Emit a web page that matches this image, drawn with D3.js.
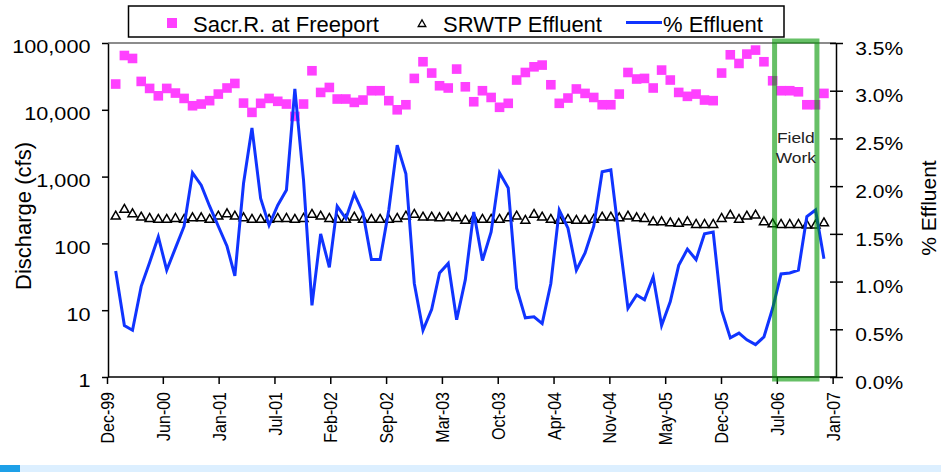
<!DOCTYPE html>
<html>
<head>
<meta charset="utf-8">
<script src="https://cdn.jsdelivr.net/npm/d3@7"></script>
<style>
  body { margin: 0; background: #fff; }
  svg { display: block; font-family: "Liberation Sans", Arial, sans-serif; }
  .axis path, .axis line { stroke: #000; stroke-width: 1.5px; }
  .axis text { fill: #000; }
</style>
</head>
<body>
<svg width="941" height="472"></svg>
<script>
// monthly values, Jan 2000 .. Dec 2006
const freeport = [24300, 65000, 58700, 26600, 20900, 16200, 20900, 17800, 14800, 11500, 12200, 13700,
  17200, 21200, 24800, 12600, 9150, 12500, 14800, 13400, 12200, 7960, 12200, 38400,
  18200, 21600, 14500, 14500, 12900, 14000, 19300, 19300, 13700, 10000, 11900, 29500,
  52400, 35500, 22900, 21200, 40700, 22100, 13200, 19300, 15300, 10900, 12500, 27900,
  36200, 44000, 46700, 23700, 12500, 15000, 20500, 17600, 15300, 11900, 11900, 17200,
  36200, 28900, 29500, 21200, 39300, 27900, 18200, 15900, 17200, 14000, 13700, 35500,
  66600, 49400, 68200, 78300, 52400, 27200, 19300, 19300, 18600, 11900, 11900, 17600];

const srwtp = [261, 329, 283, 252, 241, 233, 233, 241, 233, 246, 246, 233,
  261, 283, 261, 246, 233, 233, 233, 241, 241, 233, 241, 277,
  261, 241, 233, 233, 252, 233, 233, 233, 233, 241, 261, 277,
  252, 252, 246, 252, 246, 225, 241, 233, 233, 233, 246, 261,
  225, 277, 252, 233, 225, 233, 225, 225, 233, 252, 252, 246,
  261, 246, 241, 215, 215, 207, 203, 215, 196, 196, 196, 241,
  270, 233, 261, 270, 215, 200, 196, 196, 196, 192, 192, 207];

const pctEffluent = [1.11, 0.54, 0.49, 0.95, 1.20, 1.47, 1.12, 1.35, 1.58, 2.14, 2.01, 1.79,
  1.58, 1.37, 1.06, 2.03, 2.61, 1.87, 1.59, 1.80, 1.96, 3.02, 2.06, 0.75,
  1.50, 1.15, 1.79, 1.66, 1.92, 1.72, 1.23, 1.23, 1.75, 2.43, 2.13, 0.98,
  0.49, 0.71, 1.09, 1.19, 0.60, 1.02, 1.73, 1.22, 1.52, 2.14, 1.98, 0.93,
  0.62, 0.63, 0.56, 0.98, 1.75, 1.56, 1.12, 1.30, 1.58, 2.15, 2.17, 1.45,
  0.72, 0.86, 0.81, 1.05, 0.54, 0.79, 1.17, 1.34, 1.23, 1.50, 1.52, 0.70,
  0.41, 0.46, 0.39, 0.34, 0.42, 0.72, 1.08, 1.09, 1.12, 1.68, 1.75, 1.24];

const months = d3.timeMonth.range(new Date(2000, 0, 1), new Date(2007, 0, 1));

const xTickLabels = ["Dec-99", "Jun-00", "Jan-01", "Jul-01", "Feb-02", "Sep-02", "Mar-03",
  "Oct-03", "Apr-04", "Nov-04", "May-05", "Dec-05", "Jul-06", "Jan-07"];
const leftTicks = [1, 10, 100, 1000, 10000, 100000];
const rightTicks = [0, 0.5, 1.0, 1.5, 2.0, 2.5, 3.0, 3.5];
const fieldWork = [new Date(2006, 5, 8), new Date(2006, 10, 6)];

const svg = d3.select("svg");
const plotLeft = 108, plotRight = 836, plotTop = 43, plotBottom = 377;

const x = d3.scaleTime()
  .domain([new Date(1999, 11, 1), new Date(2007, 0, 13)])
  .range([107, plotRight]);
const yL = d3.scaleLog().domain([1, 100000]).range([plotBottom, plotTop]);
const yR = d3.scaleLinear().domain([0, 3.5]).range([plotBottom, plotTop]);

const t0 = +new Date(1999, 11, 1), t1 = +new Date(2007, 0, 1);
const tickDates = xTickLabels.map((d, i) => new Date(t0 + (t1 - t0) * i / (xTickLabels.length - 1)));

// screenshot strip at the bottom
svg.append("rect").attr("x", 0).attr("y", 465).attr("width", 941).attr("height", 7).attr("fill", "#dcefff");
svg.append("rect").attr("x", 0).attr("y", 465).attr("width", 20).attr("height", 7).attr("fill", "#1ea0e8");

// plot top border
svg.append("line")
  .attr("x1", plotLeft).attr("x2", plotRight).attr("y1", plotTop).attr("y2", plotTop)
  .attr("stroke", "#8c8c8c").attr("stroke-width", 2);

// axes
const gLeft = svg.append("g").attr("class", "axis")
  .attr("transform", `translate(${plotLeft},0)`)
  .call(d3.axisLeft(yL).tickValues(leftTicks).tickFormat(d3.format(",")).tickSize(6).tickSizeOuter(0));
gLeft.selectAll("text")
  .attr("x", -15).attr("dy", "0.53em")
  .attr("transform", "scale(1.17,1)")
  .style("font-size", "18.5px");

const gRight = svg.append("g").attr("class", "axis")
  .attr("transform", `translate(${plotRight},0)`)
  .call(d3.axisRight(yR).tickValues(rightTicks).tickFormat((d) => d.toFixed(1) + "%").tickSize(7).tickSizeOuter(0));
gRight.selectAll(".tick line").attr("x1", -6);
gRight.selectAll("text")
  .attr("x", 16.5).attr("dy", "0.62em")
  .attr("transform", "scale(1.17,1)")
  .style("font-size", "18px");

const gBottom = svg.append("g").attr("class", "axis")
  .attr("transform", `translate(0,${plotBottom})`)
  .call(d3.axisBottom(x).tickValues(tickDates).tickFormat((d, i) => xTickLabels[i]).tickSize(7).tickSizeOuter(0));
gBottom.select(".domain").attr("d", `M${plotLeft},0H${plotRight}`);
gBottom.selectAll("text")
  .attr("x", -15).attr("y", 0).attr("dy", "0.36em")
  .attr("transform", "scale(1.15,1) rotate(-90)")
  .style("text-anchor", "end")
  .style("font-size", "16px");

// axis titles
svg.append("text")
  .attr("transform", "translate(31,216) rotate(-90)")
  .attr("text-anchor", "middle")
  .style("font-size", "22px")
  .text("Discharge (cfs)");

svg.append("text")
  .attr("transform", "translate(936,208) rotate(-90)")
  .attr("text-anchor", "middle")
  .style("font-size", "21px")
  .text("% Effluent");

// SRWTP effluent triangles
const tri = "M0,-4.4L4.5,3.5L-4.5,3.5Z";
svg.append("g")
  .selectAll("path")
  .data(srwtp)
  .enter()
  .append("path")
  .attr("d", tri)
  .attr("transform", (d, i) => `translate(${x(months[i])},${yL(d)})`)
  .attr("fill", "none")
  .attr("stroke", "#000")
  .attr("stroke-width", 1.5);

// Freeport squares
svg.append("g")
  .selectAll("rect")
  .data(freeport)
  .enter()
  .append("rect")
  .attr("x", (d, i) => x(months[i]) - 4.8)
  .attr("y", (d) => yL(d) - 4.8)
  .attr("width", 9.6)
  .attr("height", 9.6)
  .attr("fill", "#ff40ff");

// % effluent line
const line = d3.line()
  .x((d, i) => x(months[i]))
  .y((d) => yR(d));

svg.append("path")
  .datum(pctEffluent)
  .attr("d", line)
  .attr("fill", "none")
  .attr("stroke", "#1034ff")
  .attr("stroke-width", 3)
  .attr("stroke-linejoin", "miter");

// field work box
svg.append("rect")
  .attr("x", x(fieldWork[0]))
  .attr("y", 41)
  .attr("width", x(fieldWork[1]) - x(fieldWork[0]))
  .attr("height", 338)
  .attr("fill", "none")
  .attr("stroke", "rgba(0,150,0,0.6)")
  .attr("stroke-width", 5);

const fwx = (x(fieldWork[0]) + x(fieldWork[1])) / 2;
[["Field", 143], ["Work", 163]].forEach(([t, yy]) => {
  svg.append("text")
    .attr("transform", `translate(${fwx},${yy}) scale(1.2,1)`)
    .attr("text-anchor", "middle")
    .style("font-size", "14.5px")
    .attr("fill", "#222")
    .text(t);
});

// legend
const legend = svg.append("g");
legend.append("rect")
  .attr("x", 128.5).attr("y", 6).attr("width", 655.5).attr("height", 31)
  .attr("fill", "#fff").attr("stroke", "#000").attr("stroke-width", 1.5);
legend.append("rect")
  .attr("x", 167).attr("y", 18).attr("width", 10).attr("height", 10)
  .attr("fill", "#ff40ff");
legend.append("path")
  .attr("d", "M0,-3.6L3.8,3L-3.8,3Z")
  .attr("transform", "translate(422,23.5)")
  .attr("fill", "none").attr("stroke", "#000").attr("stroke-width", 1.3);
legend.append("line")
  .attr("x1", 626).attr("x2", 662).attr("y1", 22.5).attr("y2", 22.5)
  .attr("stroke", "#1034ff").attr("stroke-width", 3);
[["Sacr.R. at Freeport", 193], ["SRWTP Effluent", 443], ["% Effluent", 663]].forEach(([t, xx]) => {
  legend.append("text")
    .attr("x", xx).attr("y", 31.5)
    .style("font-size", "22px")
    .text(t);
});
</script>
</body>
</html>
